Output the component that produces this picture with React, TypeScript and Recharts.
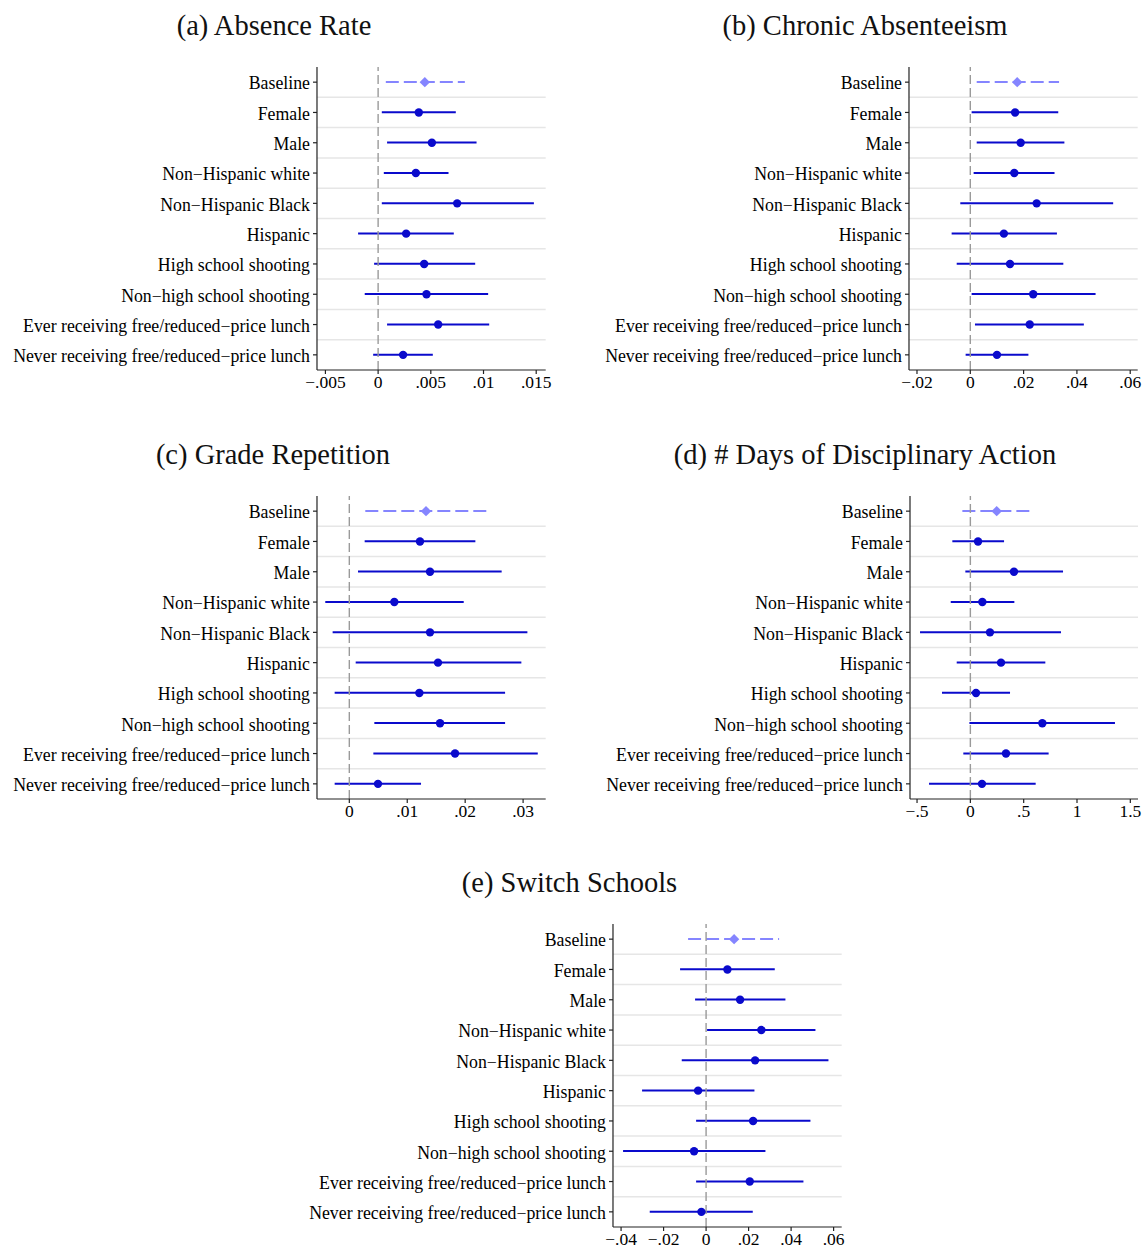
import React from 'react';
import { ComposedChart, XAxis, YAxis, Bar, Line, CartesianGrid, ReferenceLine } from 'recharts';

const categories = [
  'Baseline',
  'Female',
  'Male',
  'Non\u2212Hispanic white',
  'Non\u2212Hispanic Black',
  'Hispanic',
  'High school shooting',
  'Non\u2212high school shooting',
  'Ever receiving free/reduced\u2212price lunch',
  'Never receiving free/reduced\u2212price lunch',
];

// (a) Absence Rate
const absencePt = [0.00443, 0.00386, 0.0051, 0.00358, 0.0075, 0.00266, 0.00437, 0.00459, 0.0057, 0.00237];
const absenceLo = [0.00073, 0.00035, 0.00085, 0.00054, 0.00035, -0.0019, -0.00038, -0.00127, 0.00085, -0.00047];
const absenceHi = [0.00823, 0.00737, 0.00934, 0.00668, 0.01478, 0.00718, 0.00921, 0.01044, 0.01054, 0.00519];
const absenceTicks = [-0.005, 0, 0.005, 0.01, 0.015];

// (b) Chronic Absenteeism
const chronicPt = [0.0176, 0.0168, 0.0189, 0.0165, 0.0249, 0.0126, 0.0149, 0.0236, 0.0223, 0.01];
const chronicLo = [0.0024, 0.0005, 0.0024, 0.00125, -0.00375, -0.007, -0.0051, 0.0005, 0.00175, -0.00175];
const chronicHi = [0.0333, 0.033, 0.0353, 0.0316, 0.0536, 0.0325, 0.0349, 0.047, 0.0426, 0.0218];
const chronicTicks = [-0.02, 0, 0.02, 0.04, 0.06];

// (c) Grade Repetition
const gradePt = [0.01324, 0.0122, 0.01393, 0.00777, 0.01393, 0.01531, 0.01209, 0.01566, 0.01825, 0.00495];
const gradeLo = [0.00276, 0.00265, 0.0015, -0.00415, -0.00288, 0.0011, -0.00253, 0.00432, 0.00415, -0.00253];
const gradeHi = [0.02366, 0.02176, 0.0263, 0.01975, 0.03074, 0.0297, 0.02689, 0.02689, 0.03253, 0.01238];
const gradeTicks = [0, 0.01, 0.02, 0.03];

// (d) # Days of Disciplinary Action
const disciplinePt = [0.247, 0.072, 0.409, 0.1125, 0.184, 0.2875, 0.053, 0.675, 0.334, 0.109];
const disciplineLo = [-0.075, -0.169, -0.047, -0.184, -0.472, -0.128, -0.266, -0.009, -0.066, -0.3875];
const disciplineHi = [0.553, 0.316, 0.869, 0.4125, 0.85, 0.703, 0.372, 1.356, 0.734, 0.6125];
const disciplineTicks = [-0.5, 0, 0.5, 1, 1.5];

// (e) Switch Schools
const switchPt = [0.01318, 0.01004, 0.016, 0.026, 0.02306, -0.00376, 0.02212, -0.00565, 0.02055, -0.0022];
const switchLo = [-0.00847, -0.01224, -0.00518, 0.00047, -0.01145, -0.03012, -0.0047, -0.03906, -0.0047, -0.02651];
const switchHi = [0.03435, 0.03231, 0.03733, 0.05145, 0.05757, 0.02275, 0.0491, 0.02792, 0.0458, 0.02196];
const switchTicks = [-0.04, -0.02, 0, 0.02, 0.04, 0.06];

const FONT = '"Liberation Serif", "Times New Roman", serif';
const DARK = '#0a0acc';
const LIGHT = '#8585ff';

function buildRows(pt: number[], lo: number[], hi: number[]) {
  return categories.map((name, i) => ({ name, pt: pt[i], lo: lo[i], hi: hi[i], range: [lo[i], hi[i]] }));
}

function fmtTick(v: number): string {
  if (v === 0) return '0';
  const abs = Math.abs(v);
  let s = String(parseFloat(abs.toPrecision(6)));
  if (s.startsWith('0.')) s = s.slice(1);
  return (v < 0 ? '\u2212' : '') + s;
}

const CiShape = (props: any) => {
  const { x, y, width, height, index } = props;
  if (x == null || y == null) return null;
  const cy = y + height / 2;
  const base = index === 0;
  return (
    <line
      x1={x}
      x2={x + width}
      y1={cy}
      y2={cy}
      stroke={base ? LIGHT : DARK}
      strokeWidth={2}
      strokeDasharray={base ? '13 5' : undefined}
    />
  );
};

const renderDot = (props: any) => {
  const { cx, cy, index } = props;
  if (cx == null || cy == null) return <g key={`d-${index}`} />;
  if (index === 0) {
    const r = 5.2;
    return (
      <polygon
        key={`d-${index}`}
        points={`${cx},${cy - r} ${cx + r},${cy} ${cx},${cy + r} ${cx - r},${cy}`}
        fill={LIGHT}
      />
    );
  }
  return <circle key={`d-${index}`} cx={cx} cy={cy} r={4.2} fill={DARK} />;
};

type PanelProps = {
  title: string;
  titleX: number;
  titleY: number;
  plotLeft: number;
  plotRight: number;
  plotTop: number;
  domain: [number, number];
  ticks: number[];
  rows: any[];
};

const Y_AXIS_W = 316;
const PLOT_H = 303;
const M_TOP = 5;
const M_RIGHT = 14;
const X_AXIS_H = 32;

function Panel({ title, titleX, titleY, plotLeft, plotRight, plotTop, domain, ticks, rows }: PanelProps) {
  const plotW = plotRight - plotLeft;
  const chartW = Y_AXIS_W + plotW + M_RIGHT;
  const chartH = M_TOP + PLOT_H + X_AXIS_H + 4;
  return (
    <>
      <div
        style={{
          position: 'absolute',
          left: titleX - 250,
          width: 500,
          top: titleY - 16,
          height: 32,
          lineHeight: '32px',
          textAlign: 'center',
          fontFamily: FONT,
          fontSize: 28.5,
          color: '#111',
        }}
      >
        {title}
      </div>
      <div style={{ position: 'absolute', left: plotLeft - Y_AXIS_W, top: plotTop - M_TOP }}>
        <ComposedChart
          width={chartW}
          height={chartH}
          data={rows}
          layout="vertical"
          margin={{ top: M_TOP, right: M_RIGHT, bottom: 4, left: 0 }}
          style={{ fontFamily: FONT }}
        >
          <CartesianGrid
            vertical={false}
            stroke="#e6e6e6"
            strokeWidth={1.5}
            horizontalCoordinatesGenerator={(p: any) => {
              const off = p && p.offset ? p.offset : { top: M_TOP, height: PLOT_H };
              const n = rows.length;
              const out: number[] = [];
              for (let i = 1; i < n; i++) out.push(off.top + (i * off.height) / n);
              return out;
            }}
          />
          <XAxis
            type="number"
            domain={domain}
            allowDataOverflow
            ticks={ticks}
            tickFormatter={fmtTick}
            height={X_AXIS_H}
            stroke="#222"
            strokeWidth={1.2}
            tickSize={4}
            tickMargin={2}
            tick={{ fill: '#000', fontSize: 17.5, fontFamily: FONT }}
            interval={0}
          />
          <YAxis
            type="category"
            dataKey="name"
            width={Y_AXIS_W}
            stroke="#222"
            strokeWidth={1.2}
            tickSize={4}
            tickMargin={3}
            interval={0}
            tick={{ fill: '#000', fontSize: 17.8, fontFamily: FONT, dy: 1 }}
          />
          <ReferenceLine x={0} stroke="#9a9a9a" strokeWidth={1.4} strokeDasharray="9 4" />
          <Bar dataKey="range" barSize={8} shape={CiShape} isAnimationActive={false} />
          <Line
            dataKey="pt"
            stroke="none"
            dot={renderDot}
            activeDot={false}
            isAnimationActive={false}
          />
        </ComposedChart>
      </div>
    </>
  );
}

export default function App() {
  return (
    <div style={{ position: 'absolute', left: 0, top: 0, width: 1145, height: 1250, background: '#fff' }}>
      <Panel
        title="(a) Absence Rate"
        titleX={274}
        titleY={26}
        plotLeft={317.3}
        plotRight={546}
        plotTop={66.7}
        domain={[-0.0058, 0.0159]}
        ticks={absenceTicks}
        rows={buildRows(absencePt, absenceLo, absenceHi)}
      />
      <Panel
        title="(b) Chronic Absenteeism"
        titleX={865}
        titleY={26}
        plotLeft={909.3}
        plotRight={1138}
        plotTop={66.7}
        domain={[-0.023, 0.0628]}
        ticks={chronicTicks}
        rows={buildRows(chronicPt, chronicLo, chronicHi)}
      />
      <Panel
        title="(c) Grade Repetition"
        titleX={273}
        titleY={455}
        plotLeft={317.3}
        plotRight={546}
        plotTop={495.5}
        domain={[-0.00558, 0.0339]}
        ticks={gradeTicks}
        rows={buildRows(gradePt, gradeLo, gradeHi)}
      />
      <Panel
        title="(d) # Days of Disciplinary Action"
        titleX={865}
        titleY={455}
        plotLeft={910}
        plotRight={1138}
        plotTop={495.5}
        domain={[-0.566, 1.572]}
        ticks={disciplineTicks}
        rows={buildRows(disciplinePt, disciplineLo, disciplineHi)}
      />
      <Panel
        title="(e) Switch Schools"
        titleX={569.5}
        titleY={883}
        plotLeft={613.3}
        plotRight={842}
        plotTop={923.8}
        domain={[-0.0438, 0.0638]}
        ticks={switchTicks}
        rows={buildRows(switchPt, switchLo, switchHi)}
      />
    </div>
  );
}
